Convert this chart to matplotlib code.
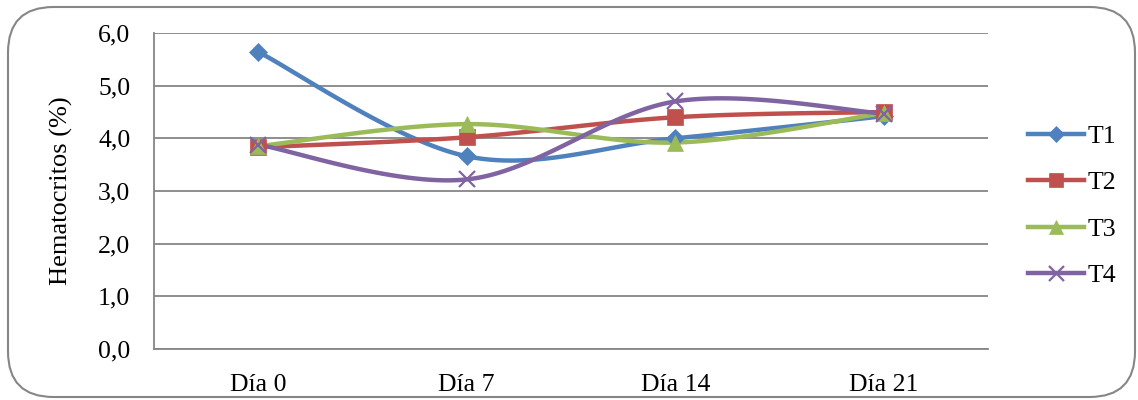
import numpy as np
import matplotlib
matplotlib.use("Agg")
import matplotlib.pyplot as plt
from matplotlib.patches import FancyBboxPatch
from matplotlib.lines import Line2D

plt.rcParams['font.family'] = ['Liberation Serif', 'DejaVu Serif']

# data
days = ['Día 0', 'Día 7', 'Día 14', 'Día 21']
t1 = [5.64, 3.66, 4.00, 4.42]
t2 = [3.83, 4.02, 4.40, 4.50]
t3 = [3.85, 4.27, 3.92, 4.48]
t4 = [3.88, 3.22, 4.70, 4.47]
names = ['T1', 'T2', 'T3', 'T4']
colors = ['#4F81BD', '#C0504D', '#9BBB59', '#8064A2']
markers = ['D', 's', '^', 'x']
msizes = [9, 11, 11, 12]


def smooth(x, y, n=40):
    # excel-like smoothing: cubic bezier through points, tension 1/6
    x = np.asarray(x, float)
    y = np.asarray(y, float)
    px = np.concatenate([[x[0]], x, [x[-1]]])
    py = np.concatenate([[y[0]], y, [y[-1]]])
    xs, ys = [], []
    t = np.linspace(0, 1, n)
    for i in range(1, len(x)):
        p0 = np.array([px[i], py[i]])
        p3 = np.array([px[i + 1], py[i + 1]])
        c1 = p0 + (np.array([px[i + 1], py[i + 1]]) - np.array([px[i - 1], py[i - 1]])) / 6
        c2 = p3 - (np.array([px[i + 2], py[i + 2]]) - np.array([px[i], py[i]])) / 6
        b = ((1 - t) ** 3)[:, None] * p0 + (3 * (1 - t) ** 2 * t)[:, None] * c1 \
            + (3 * (1 - t) * t ** 2)[:, None] * c2 + (t ** 3)[:, None] * p3
        xs.extend(b[:, 0])
        ys.extend(b[:, 1])
    return np.array(xs), np.array(ys)


fig = plt.figure(figsize=(11.38, 4.0), dpi=100)
ax = fig.add_axes([154 / 1138, 1 - 349 / 400, (988 - 154) / 1138, (349 - 33) / 400])

x = np.arange(len(days))
for vals, name, c, m, ms in zip([t1, t2, t3, t4], names, colors, markers, msizes):
    sx, sy = smooth(x, vals)
    ax.plot(sx, sy, color=c, lw=3.2, solid_capstyle='round', zorder=3)
    mew = 1.6 if m == 'x' else 0.5
    ax.plot(x, vals, ls='none', marker=m, ms=ms, color=c, mec=c, mew=mew, zorder=4)

ax.set_xlim(-0.5, 3.5)
ax.set_ylim(0, 6)
ax.set_yticks(np.arange(0, 6.1, 1))
ax.set_yticklabels([f'{v:.1f}'.replace('.', ',') for v in np.arange(0, 6.1, 1)])
ax.set_xticks(x)
ax.set_xticklabels(days)
ax.tick_params(length=0, labelsize=18.5, colors='black')
ax.tick_params(axis='y', pad=17)
ax.tick_params(axis='x', pad=18)
ax.grid(axis='y', color='#868686', lw=1.3)
ax.set_axisbelow(True)
for s in ['top', 'right']:
    ax.spines[s].set_visible(False)
for s in ['left', 'bottom']:
    ax.spines[s].set_color('#868686')
    ax.spines[s].set_linewidth(1.3)
ax.set_ylabel('Hematocritos (%)', fontsize=19, labelpad=18)

handles = [Line2D([], [], color=c, lw=3.2, marker=m, ms=ms * 0.9, mec=c,
                  mew=1.6 if m == 'x' else 0.5)
           for c, m, ms in zip(colors, markers, msizes)]
fig.legend(handles, names, loc='center left', bbox_to_anchor=(1015 / 1138, 1 - 206 / 400),
           frameon=False, fontsize=18.5, handlelength=2.2, handletextpad=0.12,
           labelspacing=0.9, borderpad=0)

border = FancyBboxPatch((8 / 1138, 3 / 400), 1127 / 1138, 390 / 400,
                        boxstyle='round,pad=0,rounding_size=0.04',
                        transform=fig.transFigure, fill=False,
                        edgecolor='#868686', lw=1.5, mutation_aspect=1138 / 400)
fig.patches.append(border)

fig.savefig('out.png', dpi=100)
